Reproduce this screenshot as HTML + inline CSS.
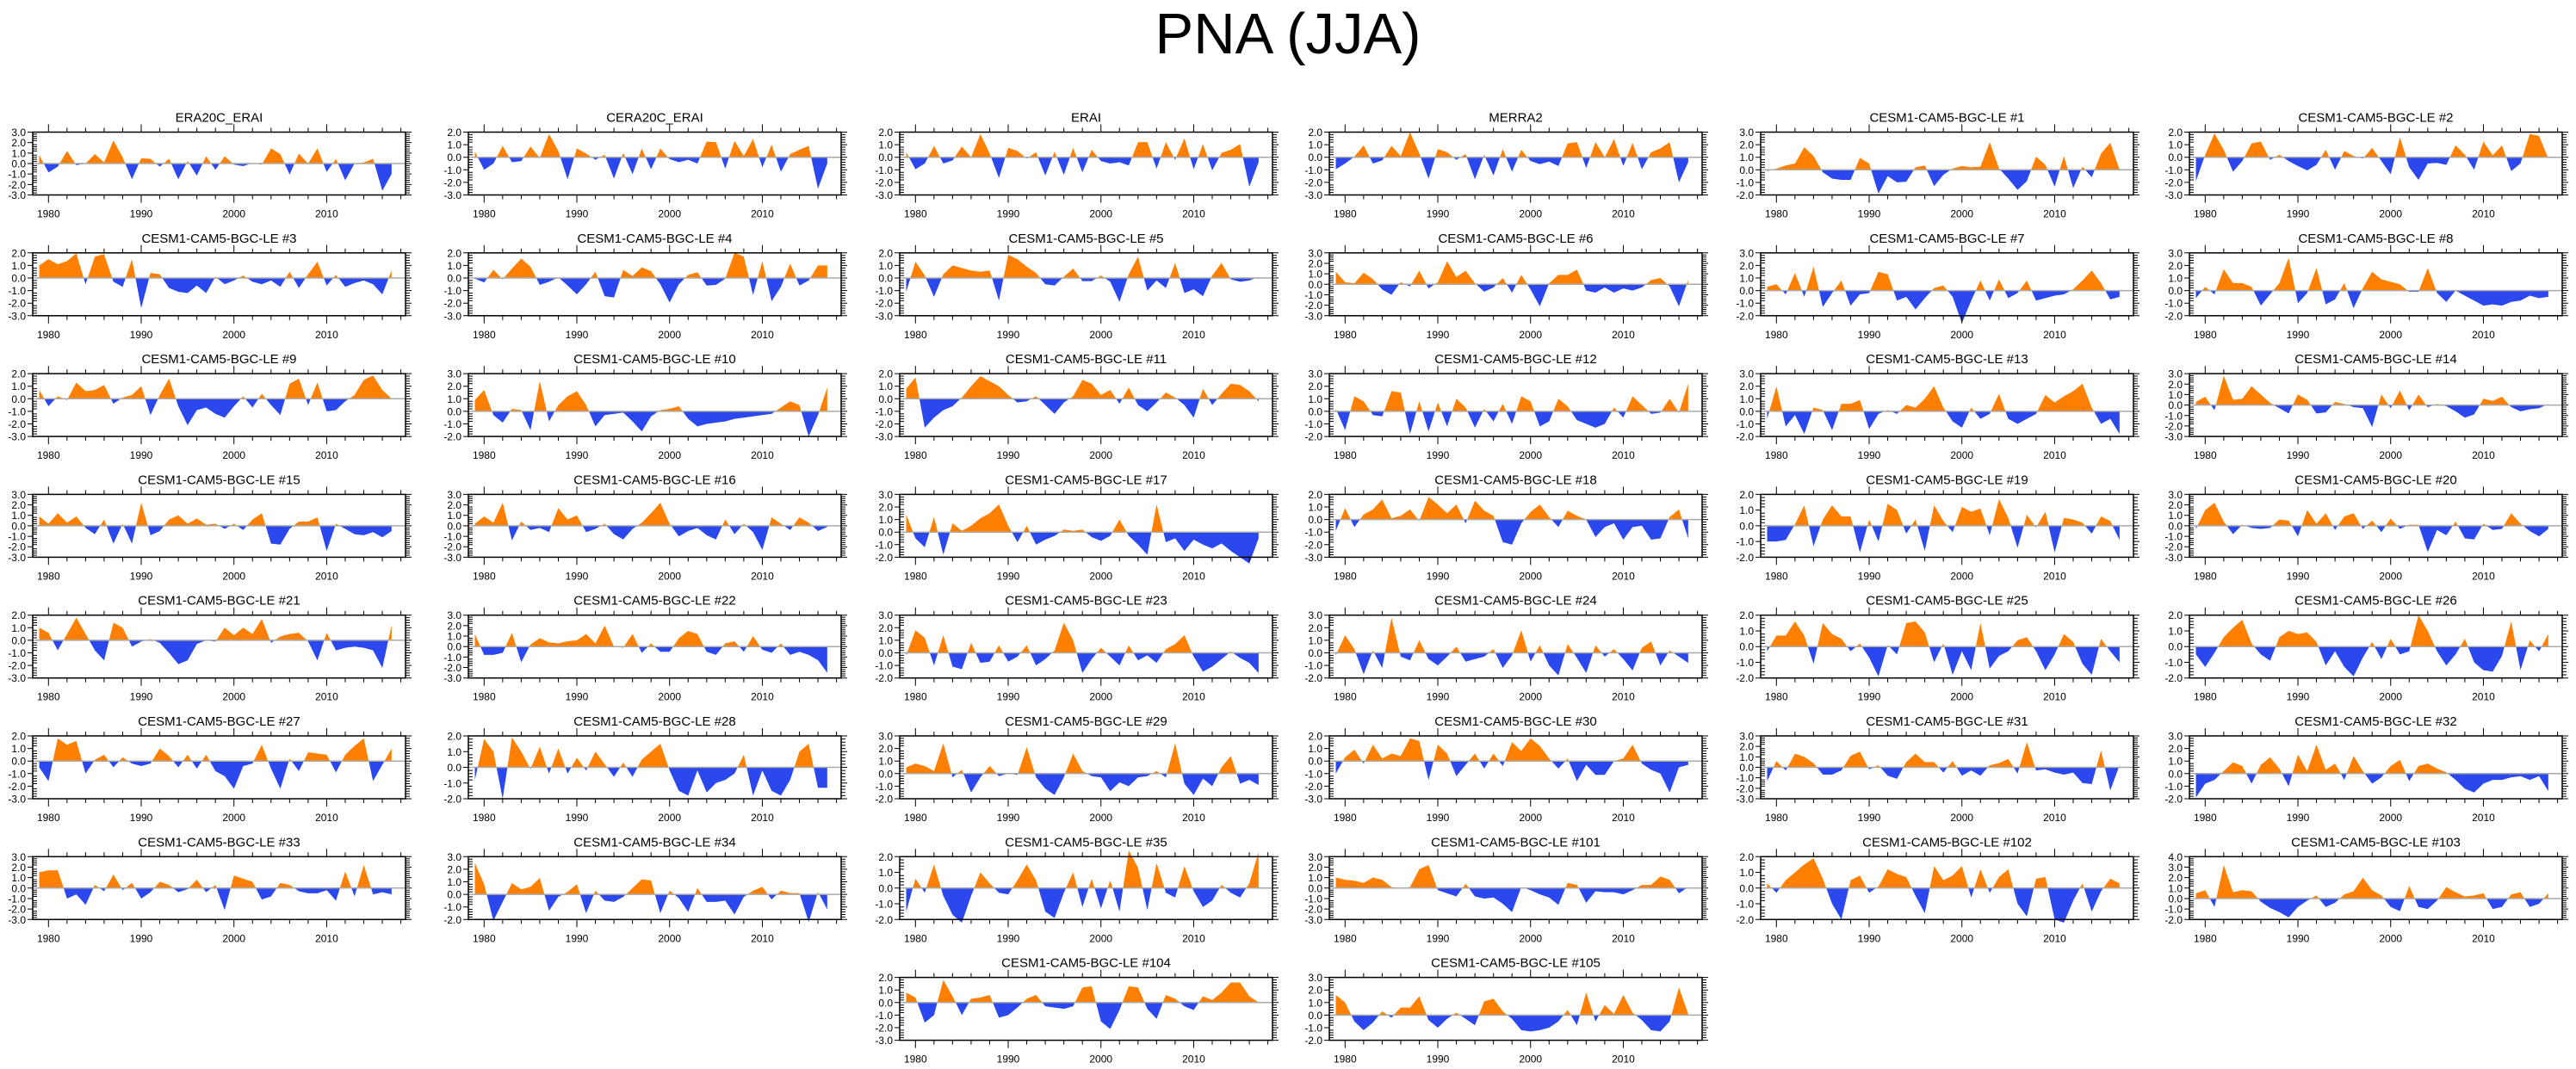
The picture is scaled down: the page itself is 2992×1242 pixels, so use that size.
<!DOCTYPE html>
<html><head><meta charset="utf-8"><title>PNA (JJA)</title>
<style>html,body{margin:0;padding:0;background:#fff;}svg{display:block;font-family:"Liberation Sans",Arial,sans-serif;}</style>
</head><body>
<svg id="chart" xmlns="http://www.w3.org/2000/svg" width="2992" height="1242" viewBox="0 0 2992 1242">
<rect x="0" y="0" width="2992" height="1242" fill="#fff"/>
<text x="1496" y="62" font-size="67" text-anchor="middle">PNA (JJA)</text>
</svg>
<script>
const startYear = 1979;
const titles = ["ERA20C_ERAI","CERA20C_ERAI","ERAI","MERRA2","CESM1-CAM5-BGC-LE #1","CESM1-CAM5-BGC-LE #2",
"CESM1-CAM5-BGC-LE #3","CESM1-CAM5-BGC-LE #4","CESM1-CAM5-BGC-LE #5","CESM1-CAM5-BGC-LE #6","CESM1-CAM5-BGC-LE #7","CESM1-CAM5-BGC-LE #8",
"CESM1-CAM5-BGC-LE #9","CESM1-CAM5-BGC-LE #10","CESM1-CAM5-BGC-LE #11","CESM1-CAM5-BGC-LE #12","CESM1-CAM5-BGC-LE #13","CESM1-CAM5-BGC-LE #14",
"CESM1-CAM5-BGC-LE #15","CESM1-CAM5-BGC-LE #16","CESM1-CAM5-BGC-LE #17","CESM1-CAM5-BGC-LE #18","CESM1-CAM5-BGC-LE #19","CESM1-CAM5-BGC-LE #20",
"CESM1-CAM5-BGC-LE #21","CESM1-CAM5-BGC-LE #22","CESM1-CAM5-BGC-LE #23","CESM1-CAM5-BGC-LE #24","CESM1-CAM5-BGC-LE #25","CESM1-CAM5-BGC-LE #26",
"CESM1-CAM5-BGC-LE #27","CESM1-CAM5-BGC-LE #28","CESM1-CAM5-BGC-LE #29","CESM1-CAM5-BGC-LE #30","CESM1-CAM5-BGC-LE #31","CESM1-CAM5-BGC-LE #32",
"CESM1-CAM5-BGC-LE #33","CESM1-CAM5-BGC-LE #34","CESM1-CAM5-BGC-LE #35","CESM1-CAM5-BGC-LE #101","CESM1-CAM5-BGC-LE #102","CESM1-CAM5-BGC-LE #103",
"CESM1-CAM5-BGC-LE #104","CESM1-CAM5-BGC-LE #105"];
const yTop = [3,2,2,2,3,2, 2,2,2,3,3,3, 2,3,2,3,3,3, 3,3,3,2,2,3, 2,3,3,3,2,2, 2,2,3,2,3,3, 3,3,2,3,2,4, 2,3];
const yBottom = [-3,-3,-3,-3,-2,-3, -3,-3,-3,-3,-2,-2, -3,-2,-3,-2,-2,-3, -3,-3,-2,-3,-2,-3, -3,-3,-2,-2,-2,-2, -3,-2,-2,-3,-3,-2, -3,-2,-2,-3,-2,-2, -3,-2];
const xTickLabels = [1980,1990,2000,2010];
const s_era20c = [0.8,-0.85,-0.3,1.2,-0.15,0,0.9,0.1,2.2,0.6,-1.5,0.5,0.45,-0.3,0.45,-1.5,0.25,-1.15,0.7,-0.6,0.7,-0.1,-0.25,0.05,-0.1,1.45,0.9,-1.05,0.95,0,1.45,-0.8,0.45,-1.6,0,0.1,0.45,-2.6,-1.0];
const s_cera20c = [0.45,-1.0,-0.5,0.9,-0.4,-0.3,0.85,-0.05,1.85,0.5,-1.75,0.7,0.3,-0.2,0.2,-1.7,0.35,-1.35,0.7,-0.95,0.7,-0.15,-0.4,-0.2,-0.5,1.25,1.2,-0.9,1.3,0.1,1.45,-0.8,1.0,-1.15,0.25,0.6,0.9,-2.5,-0.5];
const s_erai = [0.4,-0.95,-0.5,0.9,-0.5,-0.25,0.85,0,1.85,0.3,-1.65,0.75,0.5,-0.1,0.4,-1.45,0.45,-1.4,0.75,-1.2,0.6,-0.3,-0.5,-0.4,-0.65,1.2,1.2,-0.9,1.2,-0.2,1.5,-0.95,1.05,-1.05,0.35,0.6,1.05,-2.35,-0.4];
const s_merra2 = [-0.95,-0.5,0.05,0.95,-0.5,-0.25,0.9,0.1,2.0,0.3,-1.7,0.65,0.4,-0.2,0.25,-1.75,0.2,-1.45,0.65,-1.15,0.6,-0.3,-0.55,-0.35,-0.7,1.1,1.2,-0.85,1.2,0,1.45,-0.7,1.15,-0.95,0.4,0.7,1.2,-2.0,-0.4];
const s_m1 = [-0.1,0.1,0.35,0.5,1.8,1.1,-0.2,-0.7,-0.8,-0.8,0.95,0.5,-1.9,-0.5,-1.0,-0.95,0.2,0.35,-1.3,-0.4,0.1,0.3,0.2,0.25,2.2,0.1,-0.7,-1.6,-0.9,1.05,0.4,-1.35,1.1,-1.45,0.25,-0.6,1.3,2.15,0];
const s_m2 = [-1.9,0.2,1.9,0.6,-1.15,-0.3,1.1,1.25,-0.2,0.2,-0.3,-0.7,-1.05,-0.6,0.6,-1.0,0.5,0.1,-0.1,0.75,-0.3,-1.35,1.6,-0.8,-1.8,-0.5,-0.45,-0.6,0.95,0.2,-1.0,1.25,0.15,0.95,-1.1,-0.5,1.85,1.7,-0.1];
const s_m3 = [1.0,1.5,1.1,1.35,1.95,-0.5,1.7,1.9,-0.3,-0.7,1.5,-2.4,0.4,0.3,-0.8,-1.1,-1.2,-0.6,-1.2,0.1,-0.5,-0.2,0.2,-0.3,-0.5,-0.2,-0.7,0.5,-0.8,0.3,1.3,-0.6,0.25,-0.7,-0.4,-0.2,-0.5,-1.3,0.6];
const s_m4 = [-0.05,-0.35,0.65,-0.1,0.75,1.55,0.9,-0.55,-0.3,0.05,-0.6,-1.3,-0.5,0.5,-1.45,-1.55,0.65,0.15,0.85,0.55,-0.5,-1.95,-0.5,0.25,0.45,-0.6,-0.55,-0.05,2.0,1.7,-1.35,1.35,-1.85,-0.7,1.15,-0.6,-0.2,1.0,1.0];
const s_m5 = [-1.1,1.3,0.2,-1.5,0.3,1.0,0.8,0.6,0.5,0.6,-1.8,1.85,1.5,0.9,0.4,-0.5,-0.6,0.1,0.75,-0.25,-0.25,0.2,-0.3,-1.9,0.3,1.7,-1.0,-0.2,-0.8,1.2,-1.2,-0.9,-1.45,0.2,1.2,-0.1,-0.3,-0.2,0.1];
const s_m6 = [1.2,0.2,0.1,1.1,0.5,-0.5,-1.0,0.2,-0.2,1.3,-0.4,0.2,2.2,0.7,1.3,0.1,-0.7,-0.3,0.6,-0.8,0.9,-0.5,-2.1,0.1,0.9,0.9,1.4,-0.6,-0.8,-0.3,-0.8,-0.4,-0.6,-0.3,0.4,0.6,-0.2,-2.1,0.4];
const s_m7 = [0.3,0.5,-0.3,1.4,-0.5,1.9,-1.3,-0.2,0.8,-1.2,-0.3,-0.2,1.5,1.3,-0.8,-0.5,-1.5,-0.6,0.2,0.4,-0.5,-2.6,-0.8,0.8,-0.8,0.9,-0.6,-0.2,0.8,-0.8,-0.6,-0.4,-0.3,0.1,0.8,1.6,0.6,-0.7,-0.5];
const s_m8 = [-0.6,0.3,-0.3,1.7,0.6,0.6,0.3,-1.2,-0.3,0.6,2.6,-1.0,-0.2,1.8,-1.1,-0.7,0.6,-1.4,0.2,1.5,0.9,0.7,0.5,-0.1,-0.1,1.8,-0.2,-0.9,0,-0.4,-0.8,-1.2,-1.1,-1.2,-0.9,-0.8,-0.4,-0.6,-0.5];
const s_m9 = [0.7,-0.6,0.2,-0.1,1.3,0.6,0.7,1.1,-0.4,0.1,0.3,1.0,-1.3,0.3,1.6,-0.6,-2.1,-0.9,-0.7,-1.2,-1.5,-0.6,0.2,-0.7,0.4,-0.5,-1.3,1.2,1.6,-0.5,1.3,-1.0,-0.9,-0.2,0.3,1.5,1.85,0.7,0.0];
const s_m10 = [0.9,1.7,-0.3,-0.9,0.2,0.1,-1.5,2.4,-0.8,0.5,1.2,1.6,0.5,-1.2,-0.3,-0.2,-0.1,-0.8,-1.6,-0.4,0.1,0.2,0.4,-0.6,-1.2,-1.0,-0.9,-0.8,-0.6,-0.5,-0.4,-0.3,-0.2,0.3,0.8,0.5,-2.0,-0.3,1.9];
const s_m11 = [0.8,1.7,-2.3,-1.5,-0.9,-0.6,0.1,1.0,1.8,1.4,1.0,0.3,-0.3,-0.2,0.2,-0.5,-1.2,-0.3,0.2,1.5,1.2,0.3,0.7,-0.4,0.9,-0.5,-1.0,-0.3,0.5,0.1,-0.5,-1.5,0.8,-0.5,0.4,1.2,1.1,0.6,-0.2];
const s_m12 = [0.2,-1.5,1.2,0.8,-0.3,-0.4,1.6,1.5,-1.8,0.8,-1.6,0.7,-1.2,1.0,0.3,-1.3,0.2,-0.8,0.6,-1.0,1.2,0.8,-1.2,-0.8,1.0,0.4,-0.7,-1.0,-1.3,-1.0,0.3,-0.5,1.2,0.5,-0.2,-0.1,1.0,-0.1,2.2];
const s_m13 = [-0.6,2.0,-1.2,-0.3,-1.8,0.3,0.1,-1.5,0.6,0.6,0.9,-1.4,-0.2,0.1,-0.2,0.5,0.3,1.0,2.0,0.3,-0.8,-1.3,0.3,-0.6,-0.2,1.4,-0.6,-1.0,-0.6,-0.2,1.3,0.7,1.2,1.6,2.2,0.3,-1.0,-0.6,-1.8];
const s_m14 = [0.3,0.8,-0.5,2.8,0.5,0.6,1.8,1.0,0.2,-0.3,-0.8,1.0,0.5,-0.8,-0.7,0.3,0.1,-0.2,-0.3,-2.1,1.0,-0.3,1.4,-0.5,1.0,-0.2,0.1,-0.1,-0.6,-1.2,-0.9,0.6,0.4,0.8,-0.2,-0.6,-0.4,-0.3,0.1];
const s_m15 = [0.9,0.2,1.2,0.3,0.9,-0.2,-0.8,0.6,-1.7,0.2,-1.7,2.2,-0.9,-0.5,0.6,1.0,0.2,0.7,0.1,0.2,-0.3,0.2,-0.4,0.6,1.2,-1.7,-1.8,-0.3,0.4,0.4,0.8,-2.4,0.2,-0.3,-0.8,-0.9,-0.6,-1.1,-0.5];
const s_m16 = [0.2,0.9,0.3,2.2,-1.4,0.4,-0.4,-0.2,-0.6,1.7,0.6,1.0,-0.6,-0.3,0.2,-0.8,-1.3,-0.3,0.3,1.2,2.2,0.2,-1.0,-0.5,-0.2,-0.9,-1.3,0.6,-0.8,0.2,-0.6,-2.3,0.8,0.2,-0.4,0.8,0.3,-0.5,-0.1];
const s_m17 = [1.4,-0.5,-1.2,1.2,-1.8,0.7,0.1,0.5,1.1,1.5,2.2,0.5,-0.8,0.5,-1.0,-0.6,-0.3,0.2,0.1,0.2,-0.4,-0.7,-0.3,1.0,-0.3,-1.0,-1.8,2.2,-0.8,-0.5,-1.5,-0.6,-1.0,-1.3,-0.9,-1.5,-2.0,-2.5,-0.5];
const s_m18 = [-0.9,0.9,-0.6,0.4,0.8,1.6,0.1,0.3,0.8,-0.1,1.8,1.2,0.5,1.2,-0.3,1.5,0.7,0.3,-1.8,-2.0,-0.3,0.6,1.2,0.2,-0.6,0.7,0.3,0,-1.4,-0.6,-0.3,-1.6,-0.6,-0.5,-1.6,-1.5,0.2,0.8,-1.5];
const s_m19 = [-1.0,-1.0,-0.9,0.1,1.3,-1.3,0.4,1.3,0.6,0.6,-1.7,0.4,-1.0,1.4,1.0,-0.5,0.4,-1.6,1.3,0.3,-0.4,1.2,0.9,1.1,-0.6,1.7,0.5,-1.4,0.7,-0.1,0.9,-1.7,0.5,0.4,0.2,-0.5,0.6,0.3,-0.9];
const s_m20 = [-0.3,1.5,2.2,0.4,-0.8,0.1,-0.2,-0.3,-0.2,0.6,0.5,-1.0,1.5,0.2,1.2,-0.4,0.9,1.2,-0.3,0.5,-0.6,0.7,-0.3,0.1,0.1,-2.5,-0.4,-0.9,0.4,-1.2,-1.3,0.2,-0.4,-0.3,1.2,0.2,-0.5,-1.0,-0.3];
const s_m21 = [1.0,0.6,-0.8,0.5,1.8,0.5,-0.8,-1.6,1.4,1.0,-0.5,-0.1,0.1,-0.2,-1.0,-1.9,-1.6,-0.3,0,-0.1,1.0,0.4,1.0,0.5,1.7,-0.2,0.3,0.5,0.6,-0.1,-1.6,0.6,-0.8,-0.6,-0.5,-0.6,-0.8,-2.2,1.2];
const s_m22 = [1.2,-0.8,-0.8,-0.6,1.3,-1.5,0.2,0.8,0.4,0.3,0.5,0.6,1.2,0.3,2.0,0,-0.1,1.2,-0.6,0.3,-0.5,-0.5,0.8,1.5,1.2,-0.5,-0.8,0.3,0.5,-0.5,1.0,-0.3,-0.6,0.3,-0.8,-0.5,-0.8,-1.3,-2.5];
const s_m23 = [-0.2,1.8,1.2,-1.0,1.4,-1.1,-1.3,0.8,-0.8,-0.7,0.6,-0.7,-0.3,0.6,-1.0,-0.5,0.2,2.4,1.0,-1.6,-0.5,0.4,-0.3,-1.0,0.6,-0.6,-0.2,-0.8,0.3,0.7,1.4,-0.3,-1.5,-1.1,-0.5,0.1,-0.4,-0.8,-1.6];
const s_m24 = [-0.2,1.4,0.3,-1.7,0.2,-1.2,2.8,-0.3,-0.6,1.0,-0.5,-1.0,-0.3,0.5,-0.7,-0.5,-0.3,0.3,-1.2,-0.2,1.8,-0.7,0.6,-1.0,-1.8,0.7,-0.4,-1.6,0.6,-0.3,0.3,-0.5,-1.4,0.4,0.9,-1.0,0.2,-0.3,-0.8];
const s_m25 = [-0.3,0.7,0.7,1.6,0.7,-1.1,1.5,0.8,0.5,-0.3,0.2,-0.7,-1.9,0.1,-0.5,1.5,1.6,0.9,-1.0,0.2,-1.8,-0.3,-1.5,1.5,-1.4,-0.6,-0.3,0.4,0.6,-0.3,-1.5,-0.5,0.8,0.3,-1.1,-1.8,0.5,-0.3,-1.0];
const s_m26 = [-0.5,-1.3,-0.4,0.6,1.2,1.7,0.2,-0.5,-0.9,0.6,1.0,0.8,0.9,0.3,-1.2,-0.3,-1.3,-1.9,-0.7,0.3,-0.8,0.5,-0.5,-0.3,2.0,1.0,-0.3,-1.2,-0.5,0.5,-1.0,-1.5,-1.6,-0.6,1.6,-1.5,0.4,-0.3,0.8];
const s_m27 = [-0.5,-1.6,1.8,1.3,1.6,-1.0,0.1,0.5,-0.5,0.3,-0.2,-0.4,-0.2,1.0,0.4,-0.5,0.5,-0.6,0.5,-0.8,-1.2,-2.2,-0.4,-0.2,1.3,-0.6,-2.2,0.2,-0.8,0.7,0.6,0.5,-0.9,0.5,1.2,1.8,-1.6,-0.3,1.0];
const s_m28 = [-0.8,1.8,1.0,-2.0,1.9,1.0,-0.1,1.3,-0.4,1.2,-0.4,0.6,-0.2,1.0,0.2,-0.6,0.3,-0.6,0.5,1.0,1.5,-0.2,-1.5,-1.8,-0.2,-1.6,-1.0,-0.8,-0.4,0.8,-1.8,-0.2,-1.5,-1.8,-0.8,1.0,1.5,-1.3,-1.3];
const s_m29 = [0.5,0.8,0.6,0.2,2.4,-0.3,0.3,-1.5,-0.3,0.6,-0.2,0.0,-0.1,2.1,-0.3,-1.2,-1.7,-0.3,1.6,0.2,-0.2,-0.3,-1.4,-0.7,-1.0,-0.3,-0.2,0.2,-0.3,2.4,-0.8,-1.7,-0.4,-1.0,0.5,1.4,-0.8,-0.5,-0.9];
const s_m30 = [-1.0,0.3,0.9,-0.2,1.3,0.2,0.6,0.4,1.8,1.6,-1.5,1.3,0.6,-1.2,-0.3,0.6,-0.6,0.6,-0.4,1.5,0.8,1.8,1.2,0.2,-0.6,0.2,-1.6,-0.3,-1.1,-1.1,0.0,0.2,1.3,-0.2,-0.7,-1.0,-2.5,-0.5,-0.3];
const s_m31 = [-1.3,0.6,-0.3,1.3,1.0,0.4,-0.7,-0.7,-0.3,1.1,1.5,-0.2,0.2,-0.8,-1.1,0.5,1.3,0.5,0.5,-0.5,0.6,-0.8,-0.3,-0.8,0.2,0.4,0.8,-0.6,2.4,-0.3,-0.2,-0.5,-0.7,-0.5,-1.5,-1.6,1.6,-2.2,0.2];
const s_m32 = [-1.9,-0.8,-0.5,0.2,0.9,0.6,-0.8,0.7,1.3,0.4,-1.0,1.5,0.2,2.3,0.3,0.8,-0.5,1.4,0.2,-0.8,-0.3,0.6,1.1,-0.6,0.6,0.8,0.4,0.1,-0.5,-1.2,-1.5,-0.8,-0.5,-0.5,-0.3,-0.2,-0.5,-0.2,-1.4];
const s_m33 = [1.5,1.7,1.7,-1.0,-0.6,-1.6,0.3,-0.3,1.3,-0.2,0.5,-1.0,-0.4,0.6,0.3,-0.4,-0.1,0.8,-0.4,0.3,-2.1,1.2,0.9,0.6,-1.1,-0.8,0.5,0.3,-0.3,-0.5,-0.5,-0.2,-1.2,1.6,-0.8,2.2,-0.6,-0.4,-0.6];
const s_m34 = [2.5,0.8,-2.1,-0.6,0.9,0.4,0.6,1.3,-1.3,-0.2,0.2,0.8,-1.5,0.3,-0.5,-0.6,-0.2,0.5,1.2,1.1,-1.5,0.3,-0.3,-1.4,0.5,-0.6,-0.6,-0.5,-1.6,-0.2,0.3,0.6,-0.4,0.3,0.1,0.1,-2.2,0.2,-1.2];
const s_m35 = [-1.5,0.6,-0.3,1.5,-0.5,-1.7,-2.2,-0.5,1.0,0.3,-0.3,-0.4,0.5,1.5,0.5,-1.5,-1.9,-0.3,1.0,-1.2,0.6,-1.3,0.5,-1.5,2.4,1.3,-1.4,1.6,-0.3,-0.6,1.4,-0.2,-1.2,-0.8,0.2,-0.3,-0.6,0.3,2.3];
const s_m101 = [1.0,0.8,0.7,0.5,1.0,0.8,0.1,0.0,0.1,1.8,2.2,-0.2,-0.5,-0.8,0.4,-0.8,-1.0,-0.9,-1.5,-2.3,0.1,-0.2,-0.6,-0.9,-1.6,0.5,0.3,-1.4,-0.3,-0.4,-0.4,-0.6,-0.2,0.3,0.3,1.1,0.8,-0.5,0.1];
const s_m102 = [0.3,-0.3,0.5,1.0,1.5,1.9,0.6,-1.0,-2.0,0.5,0.8,-0.3,0.1,1.2,0.9,0.7,-0.5,-1.6,1.4,0.5,0.8,1.4,-0.6,1.2,-0.3,0.7,1.2,-1.0,-1.8,0.6,0.7,-2.0,-2.2,-0.8,0.3,-1.5,-0.2,0.6,0.3];
const s_m103 = [0.5,0.8,-0.8,3.2,0.6,0.8,0.7,-0.3,-0.9,-1.3,-1.8,-0.8,-0.2,0.3,-0.8,-0.4,0.4,0.7,2.0,0.8,0.3,-0.8,-1.2,1.2,-0.8,-1.0,-0.2,1.1,0.6,0.2,0.3,0.5,-1.0,-0.8,0.4,0.6,-0.8,-0.5,0.5];
const s_m104 = [0.8,0.4,-1.6,-1.0,1.8,0.5,-1.0,0.3,0.4,0.6,-1.2,-1.0,-0.4,0.3,0.6,-0.3,-0.4,-0.5,-0.3,1.2,1.3,-1.5,-2.1,-0.6,1.3,1.2,-0.5,-1.3,0.6,0.3,-0.3,-0.6,0.5,0.2,0.8,1.6,1.6,0.5,0.0];
const s_m105 = [1.6,1.0,-0.5,-1.2,-0.6,0.3,-0.2,0.6,0.6,1.5,-0.4,-1.0,-0.3,0.2,-0.3,-0.8,1.1,1.3,0.3,-0.3,-1.2,-1.3,-1.2,-1.0,-0.5,0.4,-0.8,1.8,-0.5,0.8,0.1,1.6,0.2,-0.4,-1.2,-1.3,-0.5,2.2,0.1];
const seriesList = [s_era20c,s_cera20c,s_erai,s_merra2,s_m1,s_m2,s_m3,s_m4,s_m5,s_m6,s_m7,s_m8,s_m9,s_m10,s_m11,s_m12,s_m13,s_m14,
s_m15,s_m16,s_m17,s_m18,s_m19,s_m20,s_m21,s_m22,s_m23,s_m24,s_m25,s_m26,s_m27,s_m28,s_m29,s_m30,s_m31,s_m32,s_m33,s_m34,s_m35,
s_m101,s_m102,s_m103,s_m104,s_m105];

const NS = "http://www.w3.org/2000/svg";
const svg = document.getElementById("chart");
const COL_LEFT = [38, 544, 1045, 1544, 2045, 2543];
const PW = 433, PH = 73, TOP0 = 153.5, ROWSTEP = 140.3;
const XMIN = 1978.3, XMAX = 2018.5;
const ORANGE = "#ff8000", BLUE = "#2a48ee";

function mk(tag, attrs, parent) {
  const e = document.createElementNS(NS, tag);
  for (const k in attrs) e.setAttribute(k, attrs[k]);
  parent.appendChild(e);
  return e;
}
function fmt(v) { return v.toFixed(1); }

seriesList.forEach((vals, i) => {
  let row, col;
  if (i < 42) { row = Math.floor(i / 6); col = i % 6; } else { row = 7; col = 2 + (i - 42); }
  const L = COL_LEFT[col], T = TOP0 + row * ROWSTEP, R = L + PW, B = T + PH;
  const y0 = yTop[i], y1 = yBottom[i];
  const sx = yr => L + (yr - XMIN) / (XMAX - XMIN) * PW;
  const sy = v => T + (y0 - v) / (y0 - y1) * PH;
  const g = mk("g", {}, svg);
  
  

  const title = mk("text", {x: (L + R) / 2, y: T - 12, "font-size": 15, "text-anchor": "middle"}, g);
  
  
  title.textContent = titles[i];

  const zy = sy(0);
  const pts = vals.map((v, k) => [sx(startYear + k), v]);
  const segs = [];
  let cur = null;
  for (let k = 0; k < pts.length; k++) {
    const [x, v] = pts[k];
    const sgn = v >= 0 ? 1 : -1;
    if (cur && cur.sgn !== sgn) {
      const [xp, vp] = pts[k - 1];
      const xc = xp + (x - xp) * (vp / (vp - v));
      cur.p.push([xc, 0]);
      segs.push(cur);
      cur = {sgn, p: [[xc, 0]]};
    }
    if (!cur) cur = {sgn, p: [[x, 0]]};
    cur.p.push([x, v]);
  }
  if (cur) { cur.p.push([cur.p[cur.p.length - 1][0], 0]); segs.push(cur); }
  segs.forEach(s => {
    const d = s.p.map((p, j) => (j ? "L" : "M") + p[0].toFixed(2) + "," + sy(p[1]).toFixed(2)).join("") + "Z";
    const path = mk("path", {d, fill: s.sgn > 0 ? ORANGE : BLUE, stroke: "none"}, g);
    
    
  });
  const zl = mk("line", {x1: L, x2: R, y1: zy, y2: zy, stroke: "#aaaaaa", "stroke-width": 1.5}, g);
  
  

  const fr = mk("rect", {x: L, y: T, width: PW, height: PH, fill: "none", stroke: "#000", "stroke-width": 1.5}, g);
  
  

  let td = "";
  for (let yr = 1978; yr <= 2018; yr += 2) {
    const x = sx(yr); if (x < L - 0.5 || x > R + 0.5) continue;
    const major = yr % 10 === 0;
    const len = major ? 9 : 5;
    td += `M${x.toFixed(2)},${T}v${-len}M${x.toFixed(2)},${B}v${len}`;
  }
  for (let v = y1; v <= y0 + 1e-6; v += 0.2) {
    const y = sy(v);
    const major = Math.abs(v - Math.round(v)) < 1e-6;
    if (major) td += `M${L},${y.toFixed(2)}h-6M${R},${y.toFixed(2)}h7`;
    else td += `M${L},${y.toFixed(2)}h5M${R},${y.toFixed(2)}h5`;
  }
  const tk = mk("path", {d: td, stroke: "#000", "stroke-width": 1, fill: "none"}, g);
  
  

  for (let v = y0; v >= y1; v -= 1) {
    const t = mk("text", {x: L - 8, y: sy(v) + 4.5, "font-size": 12, "text-anchor": "end"}, g);
    
    
    t.textContent = fmt(v);
  }
  xTickLabels.forEach(yr => {
    const t = mk("text", {x: sx(yr), y: B + 26, "font-size": 12, "text-anchor": "middle"}, g);
    
    
    t.textContent = yr;
  });
});
</script>
</body></html>
